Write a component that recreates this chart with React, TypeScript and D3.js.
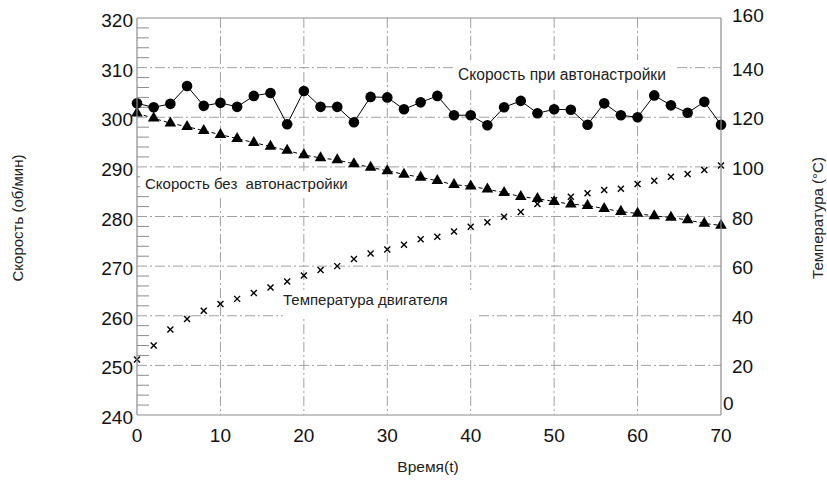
import React from "react";
import * as d3 from "d3";

const times = [0, 2, 4, 6, 8, 10, 12, 14, 16, 18, 20, 22, 24, 26, 28, 30, 32, 34, 36, 38, 40, 42, 44, 46, 48, 50, 52, 54, 56, 58, 60, 62, 64, 66, 68, 70];
const speedAuto = [302.8, 302.0, 302.7, 306.3, 302.3, 302.9, 302.1, 304.3, 304.9, 298.6, 305.3, 302.1, 302.1, 299.0, 304.1, 304.0, 301.6, 303.0, 304.3, 300.4, 300.4, 298.4, 302.0, 303.3, 300.8, 301.6, 301.5, 298.5, 302.8, 300.4, 300.0, 304.4, 302.4, 300.9, 303.1, 298.5];
const speedManual = [300.8, 299.8, 298.8, 298.1, 297.3, 296.5, 295.7, 294.9, 294.1, 293.3, 292.4, 291.8, 291.4, 290.6, 289.9, 289.2, 288.5, 287.9, 287.2, 286.4, 286.1, 285.5, 284.8, 284.0, 283.6, 283.0, 282.5, 282.2, 281.6, 281.0, 280.6, 280.1, 279.8, 279.3, 278.6, 278.2];
const temperature = [22.4, 28.0, 34.5, 38.7, 42.0, 44.7, 46.8, 49.2, 51.4, 53.8, 56.2, 58.4, 60.0, 62.9, 65.1, 66.7, 68.6, 70.8, 71.8, 74.0, 75.9, 77.7, 79.9, 81.8, 85.0, 86.6, 88.0, 89.4, 90.7, 91.2, 93.1, 94.4, 96.0, 97.1, 98.7, 100.6];

const xTicks = [0, 10, 20, 30, 40, 50, 60, 70];
const leftTicks = [240, 250, 260, 270, 280, 290, 300, 310, 320];
const rightTicks = [0, 20, 40, 60, 80, 100, 120, 140, 160];
const leftMinor = d3.range(240, 320, 2).filter((v) => v % 10 !== 0);

const labelAuto = "Скорость при автонастройки";
const labelManual = "Скорость без  автонастройки";
const labelTemp = "Температура двигателя";
const titleLeft = "Скорость (об/мин)";
const titleRight = "Температура (°C)";
const titleX = "Время(t)";

const W = 827;
const H = 489;
const L = 137, R = 721, T = 18, B = 415;
const FONT = "'Liberation Sans', Arial, Helvetica, sans-serif";
const GRID = "#a0a0a0";
const AXIS = "#8c8c8c";

export default function App() {
  const x = d3.scaleLinear().domain([0, 70]).range([L, R]);
  const yL = d3.scaleLinear().domain([240, 320]).range([B, T]);
  const yR = d3.scaleLinear().domain([0, 160]).range([B, T]);

  const lineAuto = d3.line<number>().x((_, i) => x(times[i])).y((d) => yL(d))(speedAuto) || "";
  const lineManual = d3.line<number>().x((_, i) => x(times[i])).y((d) => yL(d))(speedManual) || "";
  const tri = d3.symbol().type(d3.symbolTriangle).size(58)() || "";

  const dash = "10,3,2,3";

  return (
    <svg width={W} height={H} style={{ position: "absolute", left: 0, top: 0, background: "#fff" }} fontFamily={FONT}>
      {xTicks.filter((v) => v > 0 && v < 70).map((v) => (
        <line key={"vx" + v} x1={x(v)} x2={x(v)} y1={T} y2={B} stroke={GRID} strokeWidth={1} strokeDasharray={dash} />
      ))}
      {leftTicks.filter((v) => v > 240 && v < 320).map((v) => (
        <line key={"hy" + v} x1={L} x2={R} y1={yL(v)} y2={yL(v)} stroke={GRID} strokeWidth={1} strokeDasharray={dash} />
      ))}
      {leftMinor.map((v) => (
        <line key={"mt" + v} x1={L} x2={L + 12} y1={yL(v)} y2={yL(v)} stroke={AXIS} strokeWidth={1} />
      ))}
      <rect x={455} y={60} width={222} height={28} fill="#fff" />
      <rect x={140} y={171} width={210} height={25} fill="#fff" />
      <rect x={283} y={290} width={196} height={28} fill="#fff" />

      <path d={lineManual} fill="none" stroke="#000" strokeWidth={1} strokeDasharray="4,3" />
      {speedManual.map((d, i) => (
        <path key={"t" + i} d={tri} transform={`translate(${x(times[i])},${yL(d)})`} fill="#000" />
      ))}
      <path d={lineAuto} fill="none" stroke="#000" strokeWidth={1} />
      {speedAuto.map((d, i) => (
        <circle key={"c" + i} cx={x(times[i])} cy={yL(d)} r={5.3} fill="#000" />
      ))}
      {temperature.map((d, i) => {
        const cx = x(times[i]);
        const cy = yR(d);
        const s = 3;
        return (
          <g key={"x" + i} stroke="#000" strokeWidth={1.4}>
            <line x1={cx - s} y1={cy - s} x2={cx + s} y2={cy + s} />
            <line x1={cx - s} y1={cy + s} x2={cx + s} y2={cy - s} />
          </g>
        );
      })}

      <text x={458} y={80} fontSize={15.6} fill="#222">{labelAuto}</text>
      <text x={145} y={189} fontSize={15} fill="#222" style={{ whiteSpace: "pre" }}>{labelManual}</text>
      <text x={283} y={305} fontSize={15} fill="#222">{labelTemp}</text>

      <line x1={L} x2={R} y1={T} y2={T} stroke={AXIS} strokeWidth={1.2} />
      <line x1={L} x2={R} y1={B} y2={B} stroke={AXIS} strokeWidth={1.2} />
      <line x1={L} x2={L} y1={T} y2={B} stroke={AXIS} strokeWidth={1.2} />
      <line x1={R} x2={R} y1={T} y2={B} stroke={AXIS} strokeWidth={1.2} />

      {leftTicks.map((v) => (
        <text key={"lt" + v} x={L - 4} y={yL(v) + 9} fontSize={19} textAnchor="end" fill="#111">{v}</text>
      ))}
      {rightTicks.map((v) => (
        <text key={"rt" + v} x={R + (v === 0 ? 2 : 11)} y={yR(v) + (v === 0 ? -5 : v === 160 ? 4 : 8)} fontSize={19} textAnchor="start" fill="#111">{v}</text>
      ))}
      {xTicks.map((v) => (
        <text key={"xt" + v} x={x(v)} y={442} fontSize={19} textAnchor="middle" fill="#111">{v}</text>
      ))}

      <text x={0} y={0} fontSize={15} textAnchor="middle" fill="#222" transform={`translate(23,218) rotate(-90)`}>{titleLeft}</text>
      <text x={0} y={0} fontSize={15} textAnchor="middle" fill="#222" transform={`translate(823,218) rotate(-90)`}>{titleRight}</text>
      <text x={428} y={472} fontSize={15.5} textAnchor="middle" fill="#222">{titleX}</text>
    </svg>
  );
}
